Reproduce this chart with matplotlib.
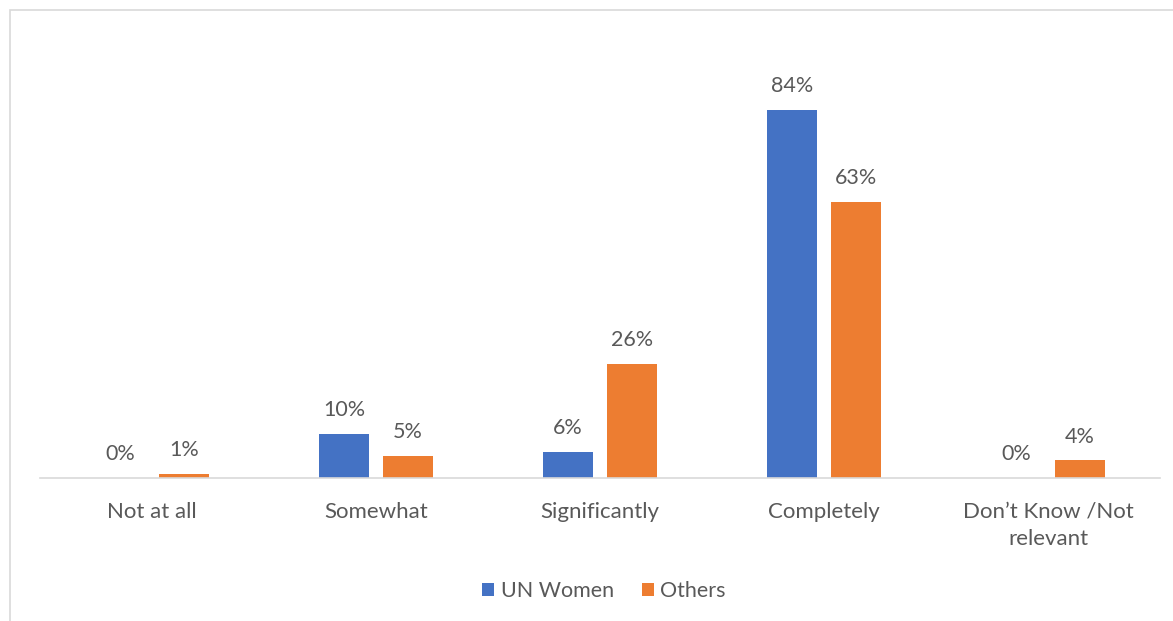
import matplotlib.pyplot as plt
import numpy as np

categories = ["Not at all", "Somewhat", "Significantly", "Completely", "Don\u2019t Know /Not\nrelevant"]
un_women = [0, 10, 6, 84, 0]
others = [1, 5, 26, 63, 4]
series_names = ["UN Women", "Others"]

blue = "#4472C4"
orange = "#ED7D31"
text_col = "#595959"

plt.rcParams['font.family'] = ['Lato', 'DejaVu Sans']

fig = plt.figure(figsize=(11.73, 6.21), dpi=100)
ax = fig.add_axes([40 / 1173, 1 - 478 / 621, 1120 / 1173, 394 / 621])

x = np.arange(len(categories))
width = 0.223
offset = 0.143

b1 = ax.bar(x - offset, un_women, width=width, color=blue, label=series_names[0])
b2 = ax.bar(x + offset, others, width=width, color=orange, label=series_names[1])

for bars, vals in ((b1, un_women), (b2, others)):
    for bar, v in zip(bars, vals):
        ax.annotate(f"{v}%", (bar.get_x() + bar.get_width() / 2, v),
                    xytext=(0, 10), textcoords="offset points",
                    ha="center", va="bottom", fontsize=15.5, color=text_col)

ax.set_xlim(-0.5, len(categories) - 0.5)
ax.set_ylim(0, 90)
ax.set_xticks(x)
ax.set_xticklabels(categories, fontsize=16, color=text_col, linespacing=1.45)
ax.tick_params(axis="x", length=0, pad=17)
ax.set_yticks([])
for side in ("top", "right", "left"):
    ax.spines[side].set_visible(False)
ax.spines["bottom"].set_color("#D9D9D9")
ax.spines["bottom"].set_linewidth(1.2)

leg = fig.legend(loc="center", bbox_to_anchor=(604 / 1173, 1 - 591 / 621), ncol=2,
                 frameon=False, fontsize=15.5, handlelength=0.55, handleheight=0.55,
                 handletextpad=0.3, columnspacing=1.3)
for t in leg.get_texts():
    t.set_color(text_col)

# outer chart border
fig.patches.append(plt.Rectangle((10 / 1173, -0.1), 1.2, 1 - 10 / 621 + 0.1,
                                 transform=fig.transFigure, fill=False,
                                 edgecolor="#D9D9D9", linewidth=1.2))

fig.savefig("out.png", dpi=100)
